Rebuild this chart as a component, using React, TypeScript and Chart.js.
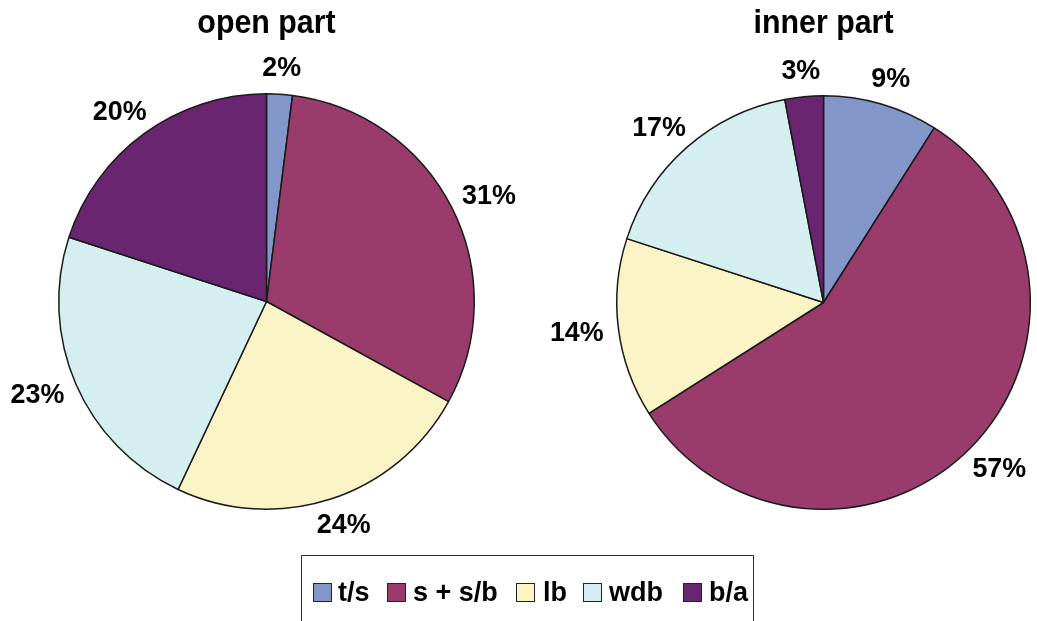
import React, { useEffect, useRef } from "react";
import { Chart, registerables } from "chart.js";

Chart.register(...registerables);

const categories = ["t/s", "s + s/b", "lb", "wdb", "b/a"];
const openValues = [2, 31, 24, 23, 20];
const innerValues = [9, 57, 14, 17, 3];
const titles = ["open part", "inner part"];
const colors = ["#8396CA", "#993C6B", "#FAF3C6", "#D5EEF0", "#69256F"];

const W = 1037;
const H = 621;

const labelPlugin = {
  id: "pieLabels",
  afterDraw(chart: any) {
    const ctx = chart.ctx;
    const meta = chart.getDatasetMeta(0);
    const data = chart.data.datasets[0].data as number[];
    const title = chart.options.plugins.pieTitle?.text ?? "";
    ctx.save();
    const area = chart.chartArea;
    const cxTitle = (area.left + area.right) / 2;
    ctx.fillStyle = "#000";
    ctx.font = "bold 33px 'Liberation Sans', Arial, sans-serif";
    ctx.textAlign = "center";
    ctx.textBaseline = "middle";
    ctx.save();
    ctx.translate(cxTitle, 24);
    ctx.scale(0.92, 1);
    ctx.fillText(title, 0, 0);
    ctx.restore();

    const sx = 0.96;
    ctx.font = "bold 28px 'Liberation Sans', Arial, sans-serif";
    meta.data.forEach((arc: any, i: number) => {
      const p = arc.getProps(["x", "y", "startAngle", "endAngle", "outerRadius"], true);
      const mid = (p.startAngle + p.endAngle) / 2;
      const ux = Math.cos(mid);
      const uy = Math.sin(mid);
      const text = data[i] + "%";
      const w = ctx.measureText(text).width * sx;
      const h = 24;
      const gap = 15;
      const lx = p.x + (p.outerRadius + gap) * ux + (w / 2) * ux;
      const ly = p.y + (p.outerRadius + gap) * uy + (h / 2) * uy;
      ctx.save();
      ctx.translate(lx, ly + 1);
      ctx.scale(sx, 1);
      ctx.fillText(text, 0, 0);
      ctx.restore();
    });
    ctx.restore();
  },
};

function makeConfig(values: number[], title: string, padding: any): any {
  return {
    type: "pie",
    data: {
      labels: categories,
      datasets: [
        {
          data: values,
          backgroundColor: colors,
          borderColor: "#1a1a1a",
          borderWidth: 1.5,
        },
      ],
    },
    options: {
      responsive: false,
      animation: false,
      layout: { padding },
      plugins: {
        legend: { display: false },
        tooltip: { enabled: false },
        title: { display: false },
        pieTitle: { text: title },
      },
    },
    plugins: [labelPlugin],
  };
}

export default function App() {
  const leftRef = useRef<HTMLCanvasElement>(null);
  const rightRef = useRef<HTMLCanvasElement>(null);

  useEffect(() => {
    const c1 = new Chart(
      leftRef.current!,
      makeConfig(openValues, titles[0], { left: 58, right: W - 475, top: 93, bottom: H - 510 })
    );
    const c2 = new Chart(
      rightRef.current!,
      makeConfig(innerValues, titles[1], { left: 616, right: W - 1031, top: 95, bottom: H - 510 })
    );
    return () => {
      c1.destroy();
      c2.destroy();
    };
  }, []);

  const squareX = [11, 85, 214, 281, 381];
  const textGap = [25, 26, 27, 26, 26];
  return (
    <div
      style={{
        position: "fixed",
        left: 0,
        top: 0,
        width: W,
        height: H,
        background: "#fff",
        overflow: "hidden",
      }}
    >
      <canvas ref={leftRef} width={W} height={H} style={{ position: "absolute", left: 0, top: 0 }} />
      <canvas ref={rightRef} width={W} height={H} style={{ position: "absolute", left: 0, top: 0 }} />
      <div
        style={{
          position: "absolute",
          left: 301,
          top: 555,
          width: 453,
          height: 80,
          border: "1.5px solid #333",
          boxSizing: "border-box",
          fontFamily: "'Liberation Sans', Arial, sans-serif",
          fontWeight: "bold",
          fontSize: 27,
        }}
      >
        {categories.map((c, i) => (
          <React.Fragment key={c}>
            <span
              style={{
                position: "absolute",
                left: squareX[i],
                top: 27,
                width: 19,
                height: 19,
                boxSizing: "border-box",
                background: colors[i],
                border: "1.5px solid #222",
              }}
            />
            <span
              style={{
                position: "absolute",
                left: squareX[i] + textGap[i],
                top: 23,
                lineHeight: "27px",
                whiteSpace: "nowrap",
              }}
            >
              {c}
            </span>
          </React.Fragment>
        ))}
      </div>
    </div>
  );
}
